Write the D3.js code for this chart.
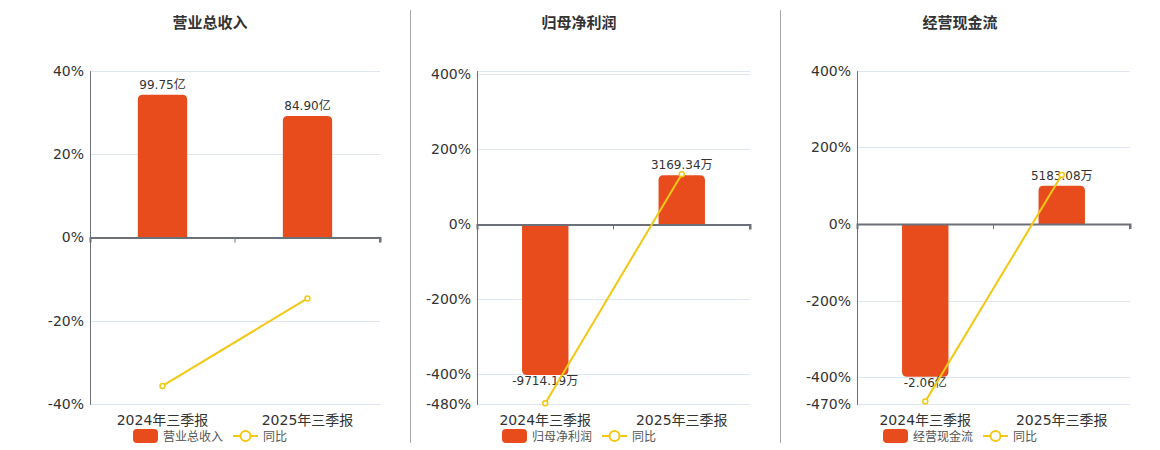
<!DOCTYPE html>
<html>
<head>
<meta charset="utf-8">
<script src="https://cdn.jsdelivr.net/npm/d3@7"></script>
<style>
  body { margin: 0; background: #fff; }
  svg { display: block; font-family: "DejaVu Sans", "Noto Sans CJK SC", sans-serif; }
</style>
</head>
<body>
<div id="chart"></div>
<script>
// categories and series
var categories = ['2024年三季报', '2025年三季报'];
var titles = ['营业总收入', '归母净利润', '经营现金流'];

var revenueValues = [99.75, 84.90];          // 亿
var revenueLabels = ['99.75亿', '84.90亿'];
var revenueYoy = [-35.6, -14.6];

var profitValues = [-9714.19, 3169.34];      // 万
var profitLabels = ['-9714.19万', '3169.34万'];
var profitYoy = [-477, 134];

var cashValues = [-20600, 5183.08];          // 万
var cashLabels = ['-2.06亿', '5183.08万'];
var cashYoy = [-463, 128];

// axis ranges and tick labels
var revenueYoyDomain = [-40, 40];
var profitYoyDomain = [-480, 410];
var cashYoyDomain = [-470, 400];
var revenueTicks = [-40, -20, 0, 20, 40];
var profitTicks = [-480, -400, -200, 0, 200, 400];
var cashTicks = [-470, -400, -200, 0, 200, 400];
var revenueBarDomain = [-116.6, 116.6];
var profitBarDomain = [-11606, 9914];
var cashBarDomain = [-24308, 20688];

var panels = [
  { title: titles[0], values: revenueValues, labels: revenueLabels, yoy: revenueYoy,
    yoyDomain: revenueYoyDomain, ticks: revenueTicks, barDomain: revenueBarDomain,
    left: 90, right: 380, center: 210 },
  { title: titles[1], values: profitValues, labels: profitLabels, yoy: profitYoy,
    yoyDomain: profitYoyDomain, ticks: profitTicks, barDomain: profitBarDomain,
    left: 477, right: 750, center: 579 },
  { title: titles[2], values: cashValues, labels: cashLabels, yoy: cashYoy,
    yoyDomain: cashYoyDomain, ticks: cashTicks, barDomain: cashBarDomain,
    left: 857, right: 1130, center: 960 }
];

var barColor = '#e84c1d';
var lineColor = '#f2c812';
var axisColor = '#6e7079';
var gridColor = '#e0e6f1';
var textColor = '#333';
var legendColor = '#555';
var plotTop = 70.7, plotBottom = 404.3;

var svg = d3.select('#chart').append('svg')
  .attr('width', 1160)
  .attr('height', 450);

// separators between panels
[410.5, 780.5].forEach(function(x) {
  svg.append('line')
    .attr('x1', x).attr('x2', x)
    .attr('y1', 10).attr('y2', 443)
    .attr('stroke', '#a8a8a8')
    .attr('stroke-width', 1);
});

// bar path with rounded end away from zero
function barPath(x, w, y0, y1, r) {
  if (y1 < y0) {
    return 'M' + x + ',' + y0 + 'V' + (y1 + r) +
      'Q' + x + ',' + y1 + ' ' + (x + r) + ',' + y1 +
      'H' + (x + w - r) +
      'Q' + (x + w) + ',' + y1 + ' ' + (x + w) + ',' + (y1 + r) +
      'V' + y0 + 'Z';
  }
  return 'M' + x + ',' + y0 + 'V' + (y1 - r) +
    'Q' + x + ',' + y1 + ' ' + (x + r) + ',' + y1 +
    'H' + (x + w - r) +
    'Q' + (x + w) + ',' + y1 + ' ' + (x + w) + ',' + (y1 - r) +
    'V' + y0 + 'Z';
}

panels.forEach(function(p) {
  var g = svg.append('g');

  var x = d3.scaleBand().domain(categories).range([p.left, p.right]).padding(0);
  var y = d3.scaleLinear().domain(p.yoyDomain).range([plotBottom, plotTop]);
  var yBar = d3.scaleLinear().domain(p.barDomain).range([plotBottom, plotTop]);

  // title
  g.append('text')
    .attr('x', p.center).attr('y', 28)
    .attr('text-anchor', 'middle')
    .attr('font-size', 15)
    .attr('font-weight', 'bold')
    .attr('fill', textColor)
    .text(p.title);

  // grid lines
  var gridVals = p.ticks.slice();
  if (gridVals.indexOf(p.yoyDomain[1]) < 0) gridVals.push(p.yoyDomain[1]);
  g.selectAll('.grid').data(gridVals).enter().append('line')
    .attr('x1', p.left).attr('x2', p.right)
    .attr('y1', function(d) { return Math.round(y(d)) + 0.5; })
    .attr('y2', function(d) { return Math.round(y(d)) + 0.5; })
    .attr('stroke', gridColor);

  // y axis
  var yAxis = d3.axisLeft(y).tickValues(p.ticks).tickSize(0).tickPadding(6)
    .tickFormat(function(d) { return d + '%'; });
  var ya = g.append('g').attr('transform', 'translate(' + p.left + ',0)').call(yAxis);
  ya.select('.domain').attr('stroke', axisColor).attr('stroke-width', 1);
  ya.selectAll('text').attr('font-size', 14).attr('fill', textColor)
    .attr('font-family', '"DejaVu Sans", sans-serif');

  // bars
  var bw = x.bandwidth() * 0.34;
  g.selectAll('.bar').data(p.values).enter().append('path')
    .attr('d', function(d, i) {
      var bx = x(categories[i]) + (x.bandwidth() - bw) / 2;
      return barPath(bx, bw, yBar(0), yBar(d), 5);
    })
    .attr('fill', barColor);

  // x axis at zero
  var xAxis = d3.axisBottom(x).tickSize(5).tickFormat('');
  var xa = g.append('g').attr('transform', 'translate(0,' + y(0) + ')').call(xAxis);
  xa.select('.domain').attr('stroke', axisColor).attr('stroke-width', 2);
  xa.selectAll('.tick').remove();
  var edges = [p.left + 0.5, p.left + x.bandwidth(), p.right - 0.5];
  g.selectAll('.xt').data(edges).enter().append('line')
    .attr('x1', function(d) { return d; }).attr('x2', function(d) { return d; })
    .attr('y1', y(0)).attr('y2', y(0) + 5)
    .attr('stroke', axisColor).attr('stroke-width', 1);

  // category labels
  g.selectAll('.cat').data(categories).enter().append('text')
    .attr('x', function(d) { return x(d) + x.bandwidth() / 2; })
    .attr('y', 425)
    .attr('text-anchor', 'middle')
    .attr('font-size', 14)
    .attr('fill', textColor)
    .text(function(d) { return d; });

  // bar labels
  g.selectAll('.blab').data(p.values).enter().append('text')
    .attr('x', function(d, i) { return x(categories[i]) + x.bandwidth() / 2; })
    .attr('y', function(d) { return d >= 0 ? yBar(d) - 6 : yBar(d) + 10; })
    .attr('text-anchor', 'middle')
    .attr('font-size', 12)
    .attr('fill', textColor)
    .text(function(d, i) { return p.labels[i]; });

  // yoy line
  var line = d3.line()
    .x(function(d, i) { return x(categories[i]) + x.bandwidth() / 2; })
    .y(function(d) { return y(d); });
  g.append('path').datum(p.yoy)
    .attr('d', line)
    .attr('fill', 'none')
    .attr('stroke', lineColor)
    .attr('stroke-width', 2);
  g.selectAll('.pt').data(p.yoy).enter().append('circle')
    .attr('cx', function(d, i) { return x(categories[i]) + x.bandwidth() / 2; })
    .attr('cy', function(d) { return y(d); })
    .attr('r', 2.5)
    .attr('fill', '#fff')
    .attr('stroke', lineColor)
    .attr('stroke-width', 1.5);

  // legend
  var lg = g.append('g').attr('transform', 'translate(' + (p.center - 77) + ',436)');
  lg.append('rect')
    .attr('x', 0).attr('y', -7).attr('width', 25).attr('height', 14)
    .attr('rx', 4).attr('fill', barColor);
  lg.append('text')
    .attr('x', 30).attr('y', 4.5)
    .attr('font-size', 12).attr('fill', legendColor)
    .text(p.title);
  lg.append('line')
    .attr('x1', 100).attr('x2', 125).attr('y1', 0).attr('y2', 0)
    .attr('stroke', lineColor).attr('stroke-width', 2);
  lg.append('circle')
    .attr('cx', 112.5).attr('cy', 0).attr('r', 5)
    .attr('fill', '#fff').attr('stroke', lineColor).attr('stroke-width', 2);
  lg.append('text')
    .attr('x', 130).attr('y', 4.5)
    .attr('font-size', 12).attr('fill', legendColor)
    .text('同比');
});
</script>
</body>
</html>
